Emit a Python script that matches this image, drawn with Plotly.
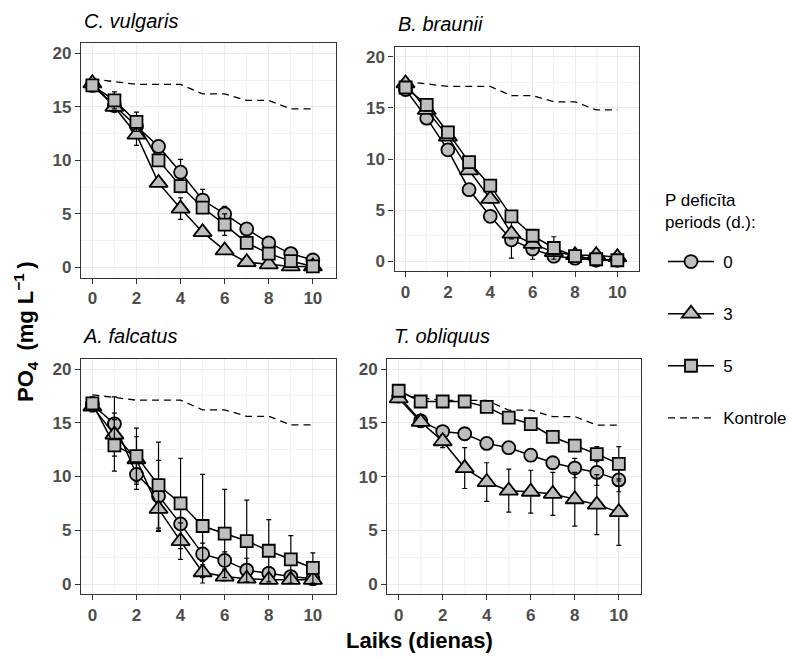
import plotly.graph_objects as go

W, H = 792, 659

days = [0, 1, 2, 3, 4, 5, 6, 7, 8, 9, 10]
kontrole = [17.6, 17.35, 17.1, 17.1, 17.1, 16.2, 16.2, 15.6, 15.6, 14.8, 14.8]

species = ["C. vulgaris", "B. braunii", "A. falcatus", "T. obliquus"]

# C. vulgaris
cv_0 = [17.0, 15.1, 13.2, 11.3, 8.9, 6.3, 5.0, 3.6, 2.3, 1.3, 0.7]
cv_3 = [17.2, 15.0, 12.4, 7.9, 5.5, 3.3, 1.6, 0.5, 0.3, 0.1, 0.1]
cv_5 = [17.0, 15.6, 13.6, 10.0, 7.6, 5.6, 4.0, 2.3, 1.3, 0.6, 0.1]
cv_0_err = [0.3, 0.3, 0.5, 0.5, 1.2, 1.0, 0.7, 0.5, 0.4, 0.3, 0.3]
cv_3_err = [0.3, 0.3, 1.0, 0.3, 1.0, 0.3, 0.3, 0.2, 0.2, 0.1, 0.1]
cv_5_err = [0.3, 0.8, 0.9, 0.5, 0.6, 0.5, 1.0, 0.3, 0.4, 0.2, 0.1]

# B. braunii
bb_0 = [16.8, 14.0, 10.9, 7.0, 4.4, 2.1, 1.2, 0.5, 0.3, 0.1, 0.1]
bb_3 = [17.4, 14.8, 12.2, 8.9, 6.1, 2.7, 1.7, 0.9, 0.6, 0.6, 0.4]
bb_5 = [17.0, 15.3, 12.6, 9.7, 7.4, 4.4, 2.5, 1.3, 0.5, 0.2, 0.1]
bb_0_err = [0.3, 0.3, 0.3, 0.3, 0.3, 1.8, 1.0, 0.4, 0.2, 0.1, 0.1]
bb_3_err = [0.3, 0.3, 0.3, 0.4, 0.4, 0.5, 0.5, 0.4, 0.3, 0.3, 0.2]
bb_5_err = [0.3, 0.6, 0.3, 0.4, 0.3, 0.3, 0.4, 1.1, 0.3, 0.2, 0.1]

# A. falcatus
af_0 = [16.7, 14.9, 10.2, 8.2, 5.6, 2.8, 2.2, 1.3, 1.0, 0.7, 0.5]
af_3 = [16.5, 13.9, 11.6, 7.0, 4.0, 1.1, 0.7, 0.5, 0.4, 0.4, 0.4]
af_5 = [16.8, 12.9, 11.9, 9.2, 7.5, 5.4, 4.7, 4.0, 3.1, 2.3, 1.5]
af_0_err = [0.7, 2.5, 1.4, 3.3, 1.5, 1.0, 0.8, 1.1, 0.6, 0.3, 0.3]
af_3_err = [0.3, 2.0, 2.1, 2.0, 1.7, 1.0, 0.4, 0.3, 0.2, 0.2, 0.2]
af_5_err = [0.4, 2.4, 2.6, 4.0, 4.2, 4.8, 4.1, 3.8, 2.9, 2.2, 1.4]

# T. obliquus
to_0 = [17.5, 15.2, 14.2, 14.0, 13.1, 12.7, 12.0, 11.3, 10.8, 10.4, 9.7]
to_3 = [17.3, 15.1, 13.3, 10.8, 9.5, 8.7, 8.6, 8.4, 7.9, 7.4, 6.7]
to_5 = [18.0, 17.0, 17.0, 17.0, 16.5, 15.5, 14.9, 13.7, 12.9, 12.1, 11.2]
to_0_err = [0.2, 0.3, 0.3, 0.3, 0.3, 0.3, 0.3, 0.4, 0.9, 1.2, 1.1]
to_3_err = [0.3, 0.4, 0.6, 1.9, 1.8, 2.0, 2.0, 2.0, 2.5, 2.8, 3.1]
to_5_err = [0.2, 0.2, 0.2, 0.2, 0.3, 0.3, 0.3, 0.3, 0.3, 0.7, 1.6]

x_ticks = [0, 2, 4, 6, 8, 10]
y_ticks = [0, 5, 10, 15, 20]
group_labels = ["0", "3", "5"]
control_label = "Kontrole"
legend_title = "P deficīta<br>periods (d.):"
x_title = "Laiks (dienas)"
y_title = "PO<sub>4</sub>\u2002(mg L<sup>−1</sup>\u2009)"

panel_data = [
    (cv_0, cv_3, cv_5, cv_0_err, cv_3_err, cv_5_err),
    (bb_0, bb_3, bb_5, bb_0_err, bb_3_err, bb_5_err),
    (af_0, af_3, af_5, af_0_err, af_3_err, af_5_err),
    (to_0, to_3, to_5, to_0_err, to_3_err, to_5_err),
]

# panel pixel boxes: (left, right, top, bottom)
boxes = [
    (81, 336, 43.3, 277.7),
    (395, 640, 47.3, 271.0),
    (81, 336, 359.0, 594.3),
    (387.7, 642.3, 359.3, 594.3),
]
title_pos = [(82, 21), (396, 24), (81.5, 336), (392, 336)]

FONT = "Liberation Sans, Arial, sans-serif"
FILL = "#BEBEBE"
symbols = ["circle", "triangle-up", "square"]
sizes = [13, 16, 12]
GAP = "\u2005"

fig = go.Figure()
layout = {}

for i, (name, pdata) in enumerate(zip(species, panel_data)):
    k = "" if i == 0 else str(i + 1)
    xa, ya = "x" + k, "y" + k
    # control
    fig.add_trace(go.Scatter(
        x=days, y=kontrole, xaxis=xa, yaxis=ya, mode="lines",
        line=dict(color="black", width=1.3, dash="7px,5px"),
        name=GAP + control_label, legendgroup="k", legendrank=4,
        showlegend=(i == 0), hoverinfo="skip"))
    for g in range(3):
        fig.add_trace(go.Scatter(
            x=days, y=pdata[g], xaxis=xa, yaxis=ya, mode="lines+markers",
            line=dict(color="black", width=1.5),
            marker=dict(symbol=symbols[g], size=sizes[g], color=FILL,
                        line=dict(color="black", width=1.8)),
            error_y=dict(type="data", array=pdata[g + 3], color="black",
                         thickness=1.2, width=2.5),
            name=GAP + group_labels[g], legendgroup="g" + group_labels[g],
            legendrank=g + 1, showlegend=(i == 0)))
    l, r, t, b = boxes[i]
    common = dict(
        showline=True, mirror=True, linecolor="#333333", linewidth=1.3,
        ticks="outside", ticklen=5, tickwidth=1.1, tickcolor="#333333",
        tickfont=dict(family=FONT, size=17, color="#4D4D4D", weight="bold"),
        showgrid=True, gridcolor="#EBEBEB", gridwidth=1.1, zeroline=False,
    )
    layout["xaxis" + k] = dict(
        common, domain=[l / W, r / W], anchor=ya, range=[-0.52, 11.03],
        tickmode="array", tickvals=x_ticks,
        minor=dict(tickmode="linear", tick0=1, dtick=2, showgrid=True,
                   gridcolor="#F2F2F2", gridwidth=0.6))
    layout["yaxis" + k] = dict(
        common, domain=[1 - b / H, 1 - t / H], anchor=xa, range=[-0.95, 20.93],
        tickmode="array", tickvals=y_ticks,
        minor=dict(tickmode="linear", tick0=2.5, dtick=5, showgrid=True,
                   gridcolor="#F2F2F2", gridwidth=0.6))

annotations = []
for i, name in enumerate(species):
    px, py = title_pos[i]
    annotations.append(dict(
        text=name, xref="paper", yref="paper", x=px / W, y=1 - py / H,
        xanchor="left", yanchor="middle", showarrow=False,
        font=dict(family=FONT, size=20, color="black", style="italic")))
annotations.append(dict(
    text=x_title, xref="paper", yref="paper", x=420 / W, y=1 - 640 / H,
    xanchor="center", yanchor="middle", showarrow=False,
    font=dict(family=FONT, size=22, color="black", weight="bold")))
annotations.append(dict(
    text=y_title, xref="paper", yref="paper", x=25 / W, y=1 - 331 / H,
    xanchor="center", yanchor="middle", showarrow=False, textangle=-90,
    font=dict(family=FONT, size=22, color="black", weight="bold")))
annotations.append(dict(
    text=legend_title, xref="paper", yref="paper", x=664 / W, y=1 - 212 / H,
    xanchor="left", yanchor="middle", align="left", showarrow=False,
    font=dict(family=FONT, size=17, color="black")))

fig.update_layout(
    width=W, height=H,
    margin=dict(l=0, r=0, t=0, b=0),
    paper_bgcolor="white", plot_bgcolor="white",
    showlegend=True,
    legend=dict(
        x=664 / W, y=1 - 244 / H, xanchor="left", yanchor="top",
        font=dict(family=FONT, size=17, color="black"),
        tracegroupgap=27, bgcolor="rgba(0,0,0,0)", itemwidth=46,
    ),
    annotations=annotations,
    **layout,
)

fig.write_html("out.html", config={"displayModeBar": False},
               post_script="document.body.style.margin='0';")
